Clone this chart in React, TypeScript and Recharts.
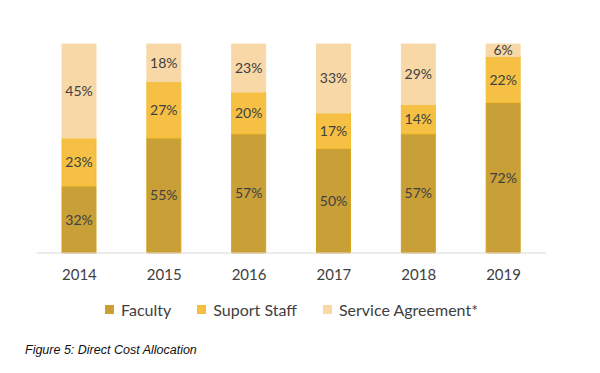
import React from 'react';
import { BarChart, Bar, XAxis, YAxis, Legend, LabelList } from 'recharts';

const years = ['2014', '2015', '2016', '2017', '2018', '2019'];
const faculty = [32, 55, 57, 50, 57, 72];
const supportStaff = [23, 27, 20, 17, 14, 22];
const serviceAgreement = [45, 18, 23, 33, 29, 6];

const seriesNames = ['Faculty', 'Suport Staff', 'Service Agreement*'];
const colors = ['#C99F38', '#F5C043', '#F8D8A6'];
const strokes = ['#D4A21C', '#F5BC2F', '#F7D9AB'];

const FONT = 'Lato, "Open Sans", sans-serif';
const TEXT = '#404040';

const LegendContent = () => (
    <div style={{ display: 'flex', justifyContent: 'center', fontFamily: FONT, fontSize: 16, color: TEXT, lineHeight: '19px' }}>
        {seriesNames.map((name, i) => (
            <div key={name} style={{ display: 'flex', alignItems: 'center', marginRight: i < seriesNames.length - 1 ? 26 : 0 }}>
                <span style={{ width: 9, height: 9, background: colors[i], border: `1px solid ${strokes[i]}`, boxSizing: 'border-box', marginRight: 7, display: 'inline-block' }} />
                <span>{name}</span>
            </div>
        ))}
    </div>
);

const App: React.FC = () => {
    const data = years.map((year, i) => ({
        year,
        faculty: faculty[i],
        support: supportStaff[i],
        service: serviceAgreement[i],
    }));

    const pct = (v: any) => `${v}%`;

    return (
        <div style={{ position: 'absolute', left: 0, top: 0, width: 600, height: 373, background: '#fff' }}>
            <BarChart
                width={600}
                height={330}
                data={data}
                margin={{ top: 44, right: 54, left: 37, bottom: 11 }}
                barSize={34}
            >
                <XAxis
                    dataKey="year"
                    axisLine={{ stroke: '#D9D9D9', strokeWidth: 1 }}
                    tickLine={false}
                    tickMargin={10}
                    height={47}
                    tick={{ fill: TEXT, fontSize: 15, fontFamily: FONT }}
                />
                <YAxis hide domain={[0, 100]} />
                <Legend verticalAlign="bottom" content={<LegendContent />} />
                <Bar dataKey="faculty" stackId="a" name={seriesNames[0]} fill={colors[0]} stroke={strokes[0]} isAnimationActive={false}>
                    <LabelList dataKey="faculty" position="center" formatter={pct} fill={TEXT} fontSize={14} fontFamily={FONT} />
                </Bar>
                <Bar dataKey="support" stackId="a" name={seriesNames[1]} fill={colors[1]} stroke={strokes[1]} isAnimationActive={false}>
                    <LabelList dataKey="support" position="center" formatter={pct} fill={TEXT} fontSize={14} fontFamily={FONT} />
                </Bar>
                <Bar dataKey="service" stackId="a" name={seriesNames[2]} fill={colors[2]} stroke={strokes[2]} isAnimationActive={false}>
                    <LabelList dataKey="service" position="center" formatter={pct} fill={TEXT} fontSize={14} fontFamily={FONT} />
                </Bar>
            </BarChart>
            <div
                style={{
                    position: 'absolute',
                    left: 25,
                    top: 343,
                    fontFamily: '"Liberation Sans", Arial, sans-serif',
                    fontStyle: 'italic',
                    fontSize: 12.5,
                    color: '#111',
                }}
            >
                Figure 5: Direct Cost Allocation
            </div>
        </div>
    );
};

export default App;
